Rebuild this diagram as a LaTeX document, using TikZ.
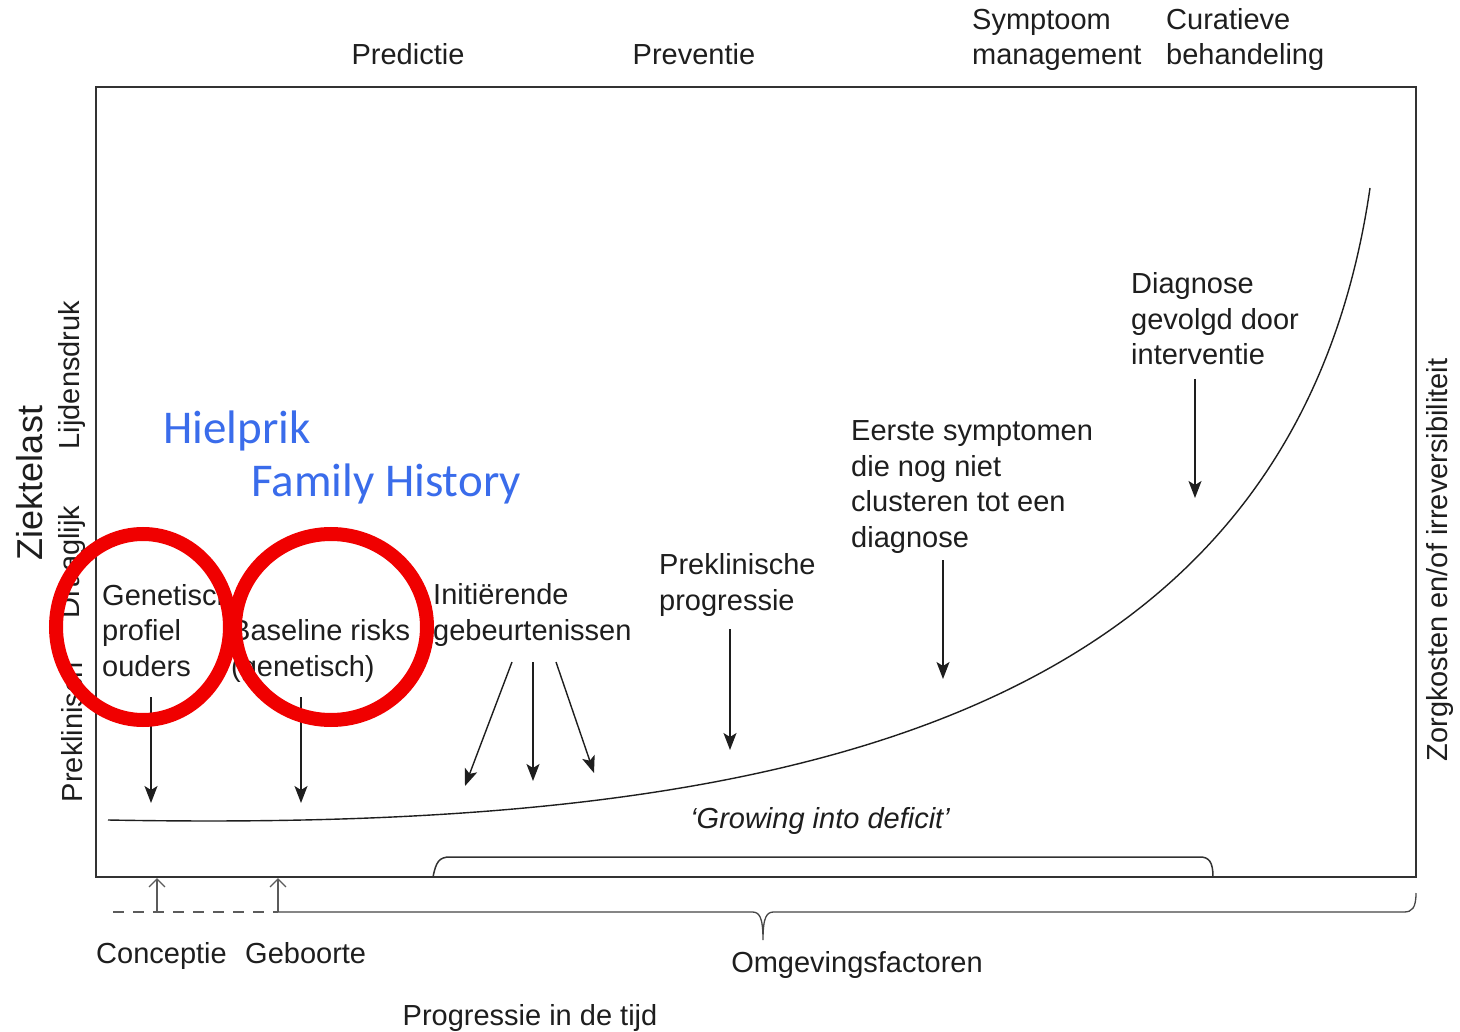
\documentclass[tikz,border=0pt]{standalone}
\usepackage{fontspec}
\setmainfont{Liberation Sans}
\newfontfamily\calfont{Carlito}
\usetikzlibrary{arrows.meta}
\definecolor{hlblue}{RGB}{58,108,235}
\definecolor{ink}{RGB}{30,30,30}
\definecolor{frame}{RGB}{50,50,50}
\definecolor{ringred}{RGB}{240,0,0}
\begin{document}
\begin{tikzpicture}[x=1pt,y=-1pt,
  lbl/.style={inner sep=0pt, anchor=base west, align=left, text=ink,
    font=\fontsize{29}{35.5}\selectfont},
  clbl/.style={lbl, anchor=base},
  vlbl/.style={inner sep=0pt, rotate=90, text=ink, font=\fontsize{29}{35.5}\selectfont},
  blbl/.style={inner sep=0pt, anchor=base west, text=hlblue, font=\calfont\fontsize{47}{56}\selectfont},
  darr/.style={draw=ink, line width=1.4pt, -{Stealth[length=17pt,width=13pt,inset=4pt]}},
  uarr/.style={draw=frame!80, line width=1.3pt, -{Straight Barb[length=8pt,width=16pt]}},
  ring/.style={draw=ringred, line width=14pt},
]
\useasboundingbox (0,0) rectangle (1460,1032);
\fill[white] (0,0) rectangle (1460,1032);

% frame
\draw[frame, line width=2pt] (96,87) rectangle (1416,877);

% top labels (base = last line)
\node[clbl] (pred) at (408,65) {Predictie};
\node[clbl] (prev) at (694,65) {Preventie};
\node[lbl] (symp) at (972,65) {Symptoom\\management};
\node[lbl] (cura) at (1166,65) {Curatieve\\behandeling};

% left vertical labels
\node[vlbl, font=\fontsize{36}{40}\selectfont] (zl) at (30,483) {Ziektelast};
\node[vlbl] (lijd) at (72,375) {Lijdensdruk};
\node[vlbl] (draag) at (72,562) {Draaglijk};
\node[vlbl] (prek) at (72,732) {Preklinisch};

% right vertical label
\node[vlbl] (zorg) at (1440,560) {Zorgkosten en/of irreversibiliteit};

% curve
\draw[ink, line width=1.4pt] (108,820) .. controls (750,832) and (1290,740) .. (1370,188);

% in-plot labels (base = last line)
\node[lbl] (gen) at (102,676) {Genetisch\\profiel\\ouders};
\node[lbl] (base) at (231,676) {Baseline risks\\(genetisch)};
\node[lbl] (init) at (433,640) {Initiërende\\gebeurtenissen};
\node[lbl] (prekl) at (659,610) {Preklinische\\progressie};
\node[lbl] (eerst) at (851,547) {Eerste symptomen\\die nog niet\\clusteren tot een\\diagnose};
\node[lbl] (diag) at (1131,365) {Diagnose\\gevolgd door\\interventie};
\node[clbl, font=\itshape\fontsize{29}{35.5}\selectfont] (grow) at (820,828) {‘Growing into deficit’};

% arrow coordinates
\coordinate (g1) at (151,697); \coordinate (g2) at (151,803);
\coordinate (b1) at (301,697); \coordinate (b2) at (301,803);
\coordinate (i1s) at (512,662); \coordinate (i1e) at (465,786);
\coordinate (i2s) at (533,662); \coordinate (i2e) at (533,781);
\coordinate (i3s) at (556,662); \coordinate (i3e) at (594,773);
\coordinate (p1) at (730,629); \coordinate (p2) at (730,750);
\coordinate (e1) at (943,560); \coordinate (e2) at (943,679);
\coordinate (d1) at (1195,379); \coordinate (d2) at (1195,498);
\draw[darr] (g1) -- (g2);
\draw[darr] (b1) -- (b2);
\draw[darr] (i1s) -- (i1e);
\draw[darr] (i2s) -- (i2e);
\draw[darr] (i3s) -- (i3e);
\draw[darr] (p1) -- (p2);
\draw[darr] (e1) -- (e2);
\draw[darr] (d1) -- (d2);

% blue labels
\node[blbl] (hiel) at (163,443) {Hielprik};
\node[blbl] (fam) at (251,496) {Family History};

% red rings
\draw[ring] (143,627) ellipse [x radius=87, y radius=93];
\draw[ring] (331,627) ellipse [x radius=96, y radius=93];

% bottom time axis
\coordinate (dl) at (113,912);
\coordinate (conc) at (157,912);
\coordinate (geb) at (278,912);
\coordinate (concT) at (157,878);
\coordinate (gebT) at (278,878);
\draw[frame!80, line width=1.3pt, dash pattern=on 11pt off 9pt] (dl) -- (geb);
\draw[uarr] (conc) -- (concT);
\draw[uarr] (geb) -- (gebT);

% inner bracket
\draw[frame, line width=1.5pt] (433,877) .. controls (436,862) and (439,857) .. (450,857)
  -- (1200,857) .. controls (1209,857) and (1213,862) .. (1213,877);

% lower brace
\draw[frame!90, line width=1.3pt] (geb) -- (752,912) .. controls (759,912) and (763,916) .. (763,940)
  .. controls (763,916) and (767,912) .. (774,912) -- (1404,912)
  .. controls (1412,912) and (1416,908) .. (1416,893);

\node[lbl] (concl) at (96,963) {Conceptie};
\node[lbl] (gebl) at (245,963) {Geboorte};
\node[clbl] (omg) at (857,972) {Omgevingsfactoren};
\node[clbl] (prog) at (530,1025) {Progressie in de tijd};
\end{tikzpicture}
\end{document}
